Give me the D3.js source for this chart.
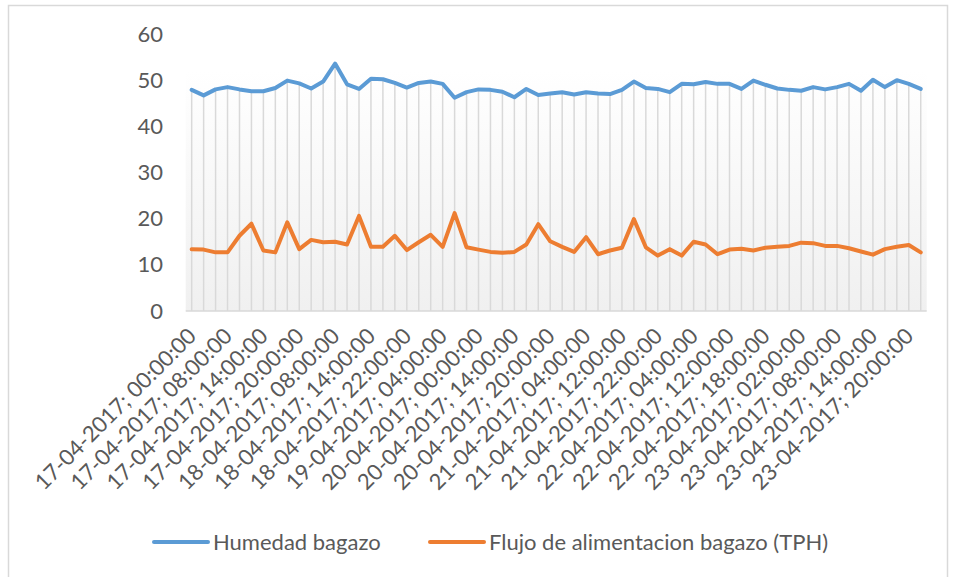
<!DOCTYPE html>
<html>
<head>
<meta charset="utf-8">
<script src="https://cdn.jsdelivr.net/npm/d3@7"></script>
<style>
  html, body { margin: 0; padding: 0; background: #fff; }
  svg { display: block; }
  text { font-family: Lato, "Open Sans", sans-serif; fill: #595959; }
</style>
</head>
<body>
<svg id="chart" width="956" height="577"></svg>
<script>
// ---- data ----
const categories = [
  "17-04-2017; 00:00:00","17-04-2017; 02:00:00","17-04-2017; 04:00:00","17-04-2017; 08:00:00",
  "17-04-2017; 10:00:00","17-04-2017; 12:00:00","17-04-2017; 14:00:00","17-04-2017; 16:00:00",
  "17-04-2017; 18:00:00","17-04-2017; 20:00:00","17-04-2017; 22:00:00","18-04-2017; 04:00:00",
  "18-04-2017; 08:00:00","18-04-2017; 10:00:00","18-04-2017; 12:00:00","18-04-2017; 14:00:00",
  "18-04-2017; 16:00:00","18-04-2017; 18:00:00","18-04-2017; 22:00:00","19-04-2017; 00:00:00",
  "19-04-2017; 02:00:00","19-04-2017; 04:00:00","19-04-2017; 08:00:00","19-04-2017; 20:00:00",
  "20-04-2017; 00:00:00","20-04-2017; 04:00:00","20-04-2017; 08:00:00","20-04-2017; 14:00:00",
  "20-04-2017; 16:00:00","20-04-2017; 18:00:00","20-04-2017; 20:00:00","20-04-2017; 22:00:00",
  "21-04-2017; 02:00:00","21-04-2017; 04:00:00","21-04-2017; 08:00:00","21-04-2017; 10:00:00",
  "21-04-2017; 12:00:00","21-04-2017; 14:00:00","21-04-2017; 18:00:00","21-04-2017; 22:00:00",
  "22-04-2017; 00:00:00","22-04-2017; 02:00:00","22-04-2017; 04:00:00","22-04-2017; 06:00:00",
  "22-04-2017; 10:00:00","22-04-2017; 12:00:00","22-04-2017; 14:00:00","22-04-2017; 16:00:00",
  "22-04-2017; 18:00:00","22-04-2017; 20:00:00","22-04-2017; 22:00:00","23-04-2017; 02:00:00",
  "23-04-2017; 04:00:00","23-04-2017; 06:00:00","23-04-2017; 08:00:00","23-04-2017; 10:00:00",
  "23-04-2017; 12:00:00","23-04-2017; 14:00:00","23-04-2017; 16:00:00","23-04-2017; 18:00:00",
  "23-04-2017; 20:00:00","23-04-2017; 22:00:00"
];
const humedad = [
  47.9,46.7,48.0,48.5,48.0,47.6,47.6,48.3,49.9,49.3,48.2,49.7,53.6,49.1,48.1,50.3,
  50.2,49.4,48.4,49.4,49.7,49.2,46.2,47.4,48.0,47.9,47.5,46.3,48.1,46.8,47.1,47.4,
  46.9,47.4,47.1,47.0,47.9,49.7,48.3,48.1,47.4,49.2,49.1,49.6,49.2,49.2,48.1,49.9,
  49.0,48.2,47.9,47.7,48.5,48.0,48.5,49.2,47.7,50.1,48.5,50.0,49.2,48.1
];
const flujo = [
  13.4,13.3,12.7,12.7,16.3,18.9,13.1,12.7,19.2,13.4,15.4,14.9,15.0,14.4,20.6,13.9,
  13.9,16.3,13.2,14.9,16.5,13.9,21.2,13.8,13.3,12.8,12.6,12.8,14.4,18.8,15.1,13.9,
  12.8,16.0,12.3,13.1,13.7,19.9,13.8,12.0,13.4,12.0,15.0,14.4,12.3,13.3,13.5,13.1,
  13.7,13.9,14.1,14.8,14.7,14.1,14.1,13.6,12.9,12.2,13.4,13.9,14.3,12.7
];
const yTicks = [0, 10, 20, 30, 40, 50, 60];
const seriesNames = ["Humedad bagazo", "Flujo de alimentacion bagazo (TPH)"];
const seriesColors = ["#5B9BD5", "#ED7D31"];

// ---- layout ----
const svg = d3.select("#chart");
const plot = { left: 185.7, right: 926.7, top: 34, bottom: 311 };

// outer chart border
svg.append("rect").attr("x", 8.5).attr("y", 5.5).attr("width", 939).attr("height", 620)
  .attr("fill", "#fff").attr("stroke", "#d9d9d9").attr("stroke-width", 1.5);

const defs = svg.append("defs");
const grad = defs.append("linearGradient").attr("id", "bg").attr("x1", 0).attr("y1", 0).attr("x2", 0).attr("y2", 1);
grad.append("stop").attr("offset", "0%").attr("stop-color", "#ffffff");
grad.append("stop").attr("offset", "100%").attr("stop-color", "#f0f0f0");

const x = d3.scalePoint().domain(categories).range([plot.left, plot.right]).padding(0.5);
const y = d3.scaleLinear().domain([0, 60]).range([plot.bottom, plot.top]);

// plot area background gradient
svg.append("rect").attr("x", plot.left).attr("y", 70)
  .attr("width", plot.right - plot.left).attr("height", plot.bottom - 70)
  .attr("fill", "url(#bg)");

// drop lines
svg.append("g").selectAll("line").data(categories).join("line")
  .attr("x1", d => x(d)).attr("x2", d => x(d))
  .attr("y1", (d, i) => y(Math.max(humedad[i], flujo[i])))
  .attr("y2", y(0))
  .attr("stroke", "#d9d9d9").attr("stroke-width", 1.5);

// x axis line
svg.append("line").attr("x1", plot.left).attr("x2", plot.right)
  .attr("y1", y(0)).attr("y2", y(0)).attr("stroke", "#d9d9d9").attr("stroke-width", 1.5);

// y axis labels
const yAxis = d3.axisLeft(y).tickValues(yTicks).tickSize(0).tickPadding(0);
const gy = svg.append("g").attr("transform", "translate(163,0)").call(yAxis);
gy.select(".domain").remove();
gy.selectAll("text").attr("font-size", "22px").attr("fill", "#595959")
  .style("font-family", "Lato, 'Open Sans', sans-serif");

// x axis labels (every 3rd category)
const xAxis = d3.axisBottom(x).tickValues(categories.filter((d, i) => i % 3 === 0)).tickSize(0).tickPadding(0);
const gx = svg.append("g").attr("transform", `translate(0,${y(0)})`).call(xAxis);
gx.select(".domain").remove();
gx.selectAll("text")
  .attr("font-size", "22px").attr("fill", "#595959")
  .style("font-family", "Lato, 'Open Sans', sans-serif")
  .attr("text-anchor", "end")
  .attr("y", 0).attr("dy", "0.35em")
  .attr("transform", "translate(0,21) rotate(-45)");

// lines
const lineGen = vals => d3.line().x((d, i) => x(categories[i])).y(d => y(d))(vals);
[humedad, flujo].forEach((vals, k) => {
  svg.append("path").attr("d", lineGen(vals)).attr("fill", "none")
    .attr("stroke", seriesColors[k]).attr("stroke-width", 4)
    .attr("stroke-linejoin", "round").attr("stroke-linecap", "round");
});

// legend
const legendItems = [{ x0: 154, x1: 208, tx: 213 }, { x0: 430, x1: 484, tx: 489 }];
legendItems.forEach((it, k) => {
  svg.append("line").attr("x1", it.x0).attr("x2", it.x1).attr("y1", 542).attr("y2", 542)
    .attr("stroke", seriesColors[k]).attr("stroke-width", 4).attr("stroke-linecap", "round");
  svg.append("text").attr("x", it.tx).attr("y", 542).attr("dy", "0.35em")
    .attr("font-size", "22px").text(seriesNames[k]);
});
</script>
</body>
</html>
